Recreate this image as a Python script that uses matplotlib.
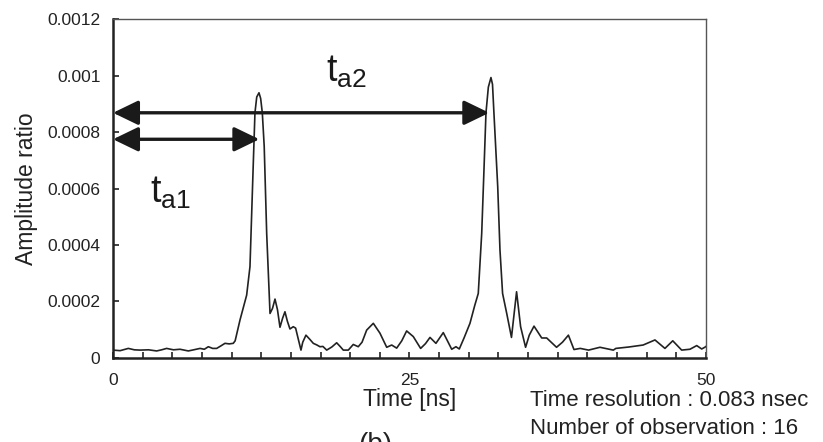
import matplotlib

matplotlib.use("Agg")
import matplotlib.pyplot as plt
import numpy as np

TIME_NS = [
    0, 0.6, 1.29, 1.8, 2.28, 3.0, 3.68, 4.1, 4.52, 5.1, 5.65, 6.35, 6.8, 7.34, 7.7,
    8.04, 8.4, 8.74, 9.1, 9.44, 9.8, 10.14, 10.3, 10.71, 11.13, 11.27, 11.55, 11.83,
    11.97, 12.12, 12.31, 12.45, 12.59, 12.75, 12.96, 13.24, 13.45, 13.66, 13.87, 14.08,
    14.3, 14.5, 14.7, 14.92, 15.2, 15.4, 15.6, 15.85, 16.0, 16.27, 16.6, 16.89, 17.2,
    17.45, 17.7, 18.02, 18.45, 18.86, 19.15, 19.42, 19.84, 20.26, 20.68, 21.0, 21.39,
    21.95, 22.51, 23.08, 23.5, 23.92, 24.35, 24.76, 25.32, 25.94, 26.35, 26.73, 27.23,
    27.85, 28.2, 28.56, 28.92, 29.2, 29.6, 30.1, 30.5, 30.8, 31.09, 31.25, 31.45, 31.65,
    31.87, 32.0, 32.12, 32.44, 32.63, 32.85, 33.2, 33.6, 34.03, 34.37, 34.79, 35.1,
    35.5, 36.15, 36.57, 37.4, 37.9, 38.4, 38.87, 39.4, 40.1, 41.06, 42.19, 42.4, 43.5,
    44.7, 45.7, 46.54, 47.2, 47.95, 48.65, 49.22, 49.64, 49.9, 50.0,
]
AMPLITUDE_E4 = [
    0.27, 0.25, 0.33, 0.28, 0.27, 0.28, 0.24, 0.28, 0.33, 0.28, 0.30, 0.24, 0.28, 0.33, 0.30,
    0.39, 0.33, 0.33, 0.42, 0.51, 0.49, 0.51, 0.60, 1.34, 2.0, 2.22, 3.23, 6.9,
    8.69, 9.25, 9.40, 9.2, 8.69, 7.5, 4.4, 1.57, 1.75, 2.08, 1.7, 1.08,
    1.4, 1.63, 1.3, 1.02, 1.1, 1.05, 0.7, 0.27, 0.55, 0.80, 0.65, 0.51, 0.45,
    0.39, 0.40, 0.27, 0.38, 0.53, 0.40, 0.27, 0.27, 0.47, 0.39, 0.55, 0.98,
    1.22, 0.87, 0.37, 0.45, 0.34, 0.6, 0.95, 0.75, 0.33, 0.5, 0.72, 0.51,
    0.89, 0.6, 0.30, 0.39, 0.31, 0.7, 1.22, 1.85, 2.28, 4.41, 6.3, 8.69, 9.6,
    9.94, 9.7, 8.69, 6.07, 3.82, 2.28, 1.57, 0.72, 2.34, 1.1, 0.37, 0.8,
    1.12, 0.7, 0.7, 0.37, 0.55, 0.80, 0.29, 0.33, 0.27, 0.37, 0.27, 0.33, 0.38,
    0.45, 0.63, 0.33, 0.6, 0.27, 0.30, 0.43, 0.31, 0.37, 0.40,
]

X_TICKS = list(np.arange(0, 50.01, 2.5))
X_TICK_LABELS = ["0"] + [""] * 9 + ["25"] + [""] * 9 + ["50"]
Y_TICKS = [0, 0.0002, 0.0004, 0.0006, 0.0008, 0.001, 0.0012]
Y_TICK_LABELS = ["0", "0.0002", "0.0004", "0.0006", "0.0008", "0.001", "0.0012"]

# arrow spans (start, end, height)
ARROW_TA1 = (0.0, 12.34, 0.000775)
ARROW_TA2 = (0.0, 31.73, 0.000869)

plt.rcParams.update(
    {
        "font.family": ["Liberation Sans", "DejaVu Sans"],
        "mathtext.fontset": "custom",
        "mathtext.rm": "Liberation Sans",
        "mathtext.it": "Liberation Sans",
    }
)

fig = plt.figure(figsize=(8.23, 4.42), dpi=100)
ax = fig.add_axes([0.1373, 0.1907, 0.7205, 0.7652])

amp = np.array(AMPLITUDE_E4) * 1e-4
ax.plot(TIME_NS, amp, color="#222222", linewidth=1.2)

ax.set_xlim(0, 50)
ax.set_ylim(0, 0.0012)
ax.set_xticks(X_TICKS)
ax.set_xticklabels(X_TICK_LABELS)
ax.set_yticks(Y_TICKS)
ax.set_yticklabels(Y_TICK_LABELS)
ax.tick_params(axis="both", direction="in", length=4, width=1.2, labelsize=12.5, colors="#222222")
ax.tick_params(axis="x", pad=11)
ax.tick_params(axis="y", pad=9)

for side in ("left", "bottom"):
    ax.spines[side].set_linewidth(1.8)
    ax.spines[side].set_color("#222222")
for side in ("top", "right"):
    ax.spines[side].set_linewidth(1.0)
    ax.spines[side].set_color("#555555")

ax.set_ylabel("Amplitude ratio", fontsize=16.5, color="#222222", labelpad=7)
ax.set_xlabel("Time [ns]", fontsize=16.5, color="#222222", labelpad=0)

for x0, x1, y in (ARROW_TA1, ARROW_TA2):
    ax.annotate(
        "",
        xy=(x1, y),
        xytext=(x0, y),
        xycoords="data",
        arrowprops=dict(
            arrowstyle="<|-|>,head_length=15.5,head_width=7.5",
            mutation_scale=1,
            color="#1a1a1a",
            linewidth=2.4,
            shrinkA=0,
            shrinkB=0,
        ),
        annotation_clip=False,
    )

ax.text(18.0, 0.000979, r"$\mathregular{t_{a2}}$", fontsize=27, color="#1a1a1a", va="baseline")
ax.text(3.1, 0.000549, r"$\mathregular{t_{a1}}$", fontsize=27, color="#1a1a1a", va="baseline")

fig.text(530 / 823, 1 - 401 / 442, "Time resolution : 0.083 nsec", fontsize=16, color="#222222", va="center")
fig.text(530 / 823, 1 - 428 / 442, "Number of observation : 16", fontsize=16, color="#222222", va="center")
# "(b)" is cut by the bottom edge in the source figure as well
fig.text(375 / 823, 1 - 432 / 442, "(b)", fontsize=20, color="#222222", ha="center", va="top")

fig.savefig("out.png", dpi=100, facecolor="white")
